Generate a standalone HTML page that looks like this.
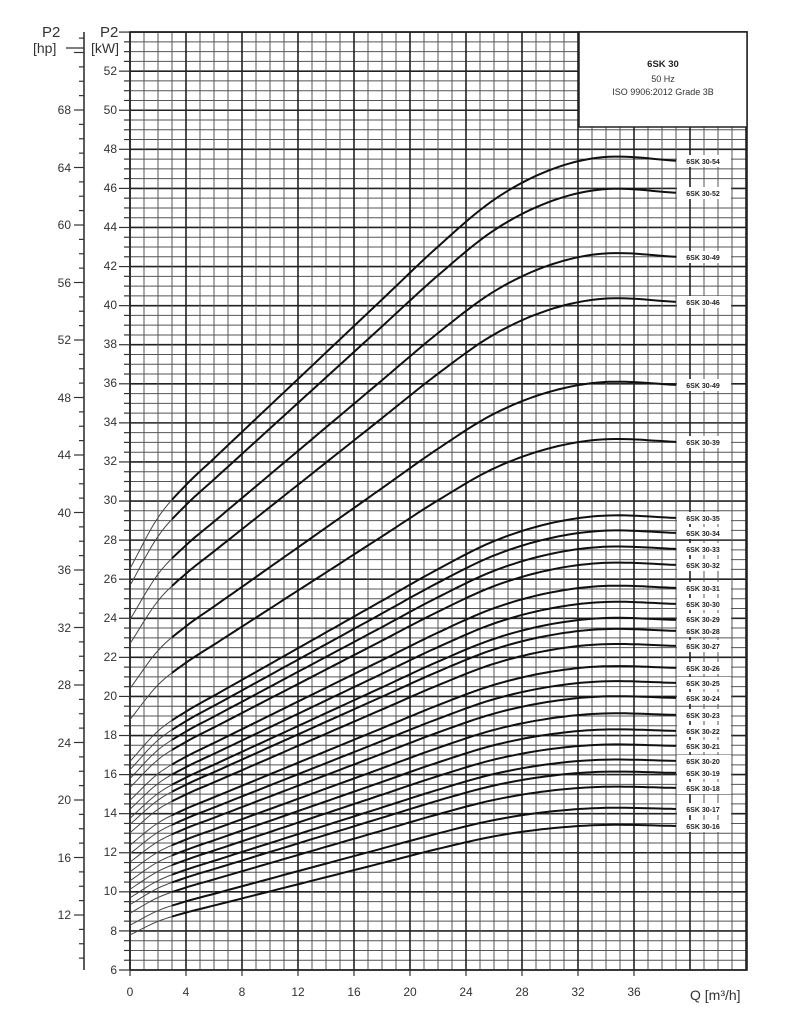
<!DOCTYPE html>
<html><head><meta charset="utf-8"><style>
html,body{margin:0;padding:0;background:#fff}
svg{display:block}
text{font-family:"Liberation Sans",sans-serif}
</style></head><body>
<svg id="s" width="788" height="1024" viewBox="0 0 788 1024" xmlns="http://www.w3.org/2000/svg">
<rect width="788" height="1024" fill="#fff"/>
<g id="grid"></g>
<g id="curves"></g>
<g id="axes"></g>
<rect x="579" y="32" width="168" height="95" fill="#fff" stroke="#222" stroke-width="1.5"/>
<text x="663" y="67" font-size="9.5" font-weight="bold" text-anchor="middle" fill="#222">6SK 30</text>
<text x="663" y="82" font-size="9" text-anchor="middle" fill="#333">50 Hz</text>
<text x="663" y="95" font-size="9" text-anchor="middle" fill="#333">ISO 9906:2012 Grade 3B</text>
<g id="lbl" font-size="7" font-weight="bold" fill="#222" text-anchor="middle">
<text x="703" y="164">6SK 30-54</text>
<text x="703" y="196">6SK 30-52</text>
<text x="703" y="260">6SK 30-49</text>
<text x="703" y="305">6SK 30-46</text>
<text x="703" y="388">6SK 30-49</text>
<text x="703" y="445">6SK 30-39</text>
<text x="703" y="521">6SK 30-35</text>
<text x="703" y="536">6SK 30-34</text>
<text x="703" y="552">6SK 30-33</text>
<text x="703" y="568">6SK 30-32</text>
<text x="703" y="591">6SK 30-31</text>
<text x="703" y="607">6SK 30-30</text>
<text x="703" y="622">6SK 30-29</text>
<text x="703" y="634">6SK 30-28</text>
<text x="703" y="649">6SK 30-27</text>
<text x="703" y="671">6SK 30-26</text>
<text x="703" y="686">6SK 30-25</text>
<text x="703" y="701">6SK 30-24</text>
<text x="703" y="718">6SK 30-23</text>
<text x="703" y="734">6SK 30-22</text>
<text x="703" y="749">6SK 30-21</text>
<text x="703" y="764">6SK 30-20</text>
<text x="703" y="776">6SK 30-19</text>
<text x="703" y="791">6SK 30-18</text>
<text x="703" y="812">6SK 30-17</text>
<text x="703" y="829">6SK 30-16</text>
</g>
<g font-size="12" fill="#333" text-anchor="end">
<text x="117" y="75">52</text><text x="117" y="114">50</text><text x="117" y="153">48</text><text x="117" y="192">46</text>
<text x="117" y="231">44</text><text x="117" y="270">42</text><text x="117" y="309">40</text><text x="117" y="348">38</text>
<text x="117" y="387">36</text><text x="117" y="426">34</text><text x="117" y="465">32</text><text x="117" y="504">30</text>
<text x="117" y="544">28</text><text x="117" y="583">26</text><text x="117" y="622">24</text><text x="117" y="661">22</text>
<text x="117" y="700">20</text><text x="117" y="739">18</text><text x="117" y="778">16</text><text x="117" y="817">14</text>
<text x="117" y="856">12</text><text x="117" y="895">10</text><text x="117" y="935">8</text><text x="117" y="974">6</text>
</g>
<g font-size="12" fill="#333" text-anchor="end">
<text x="71" y="114">68</text><text x="71" y="172">64</text><text x="71" y="229">60</text><text x="71" y="287">56</text>
<text x="71" y="344">52</text><text x="71" y="402">48</text><text x="71" y="459">44</text><text x="71" y="517">40</text>
<text x="71" y="574">36</text><text x="71" y="632">32</text><text x="71" y="689">28</text><text x="71" y="747">24</text>
<text x="71" y="804">20</text><text x="71" y="862">16</text><text x="71" y="919">12</text>
</g>
<g font-size="12" fill="#333" text-anchor="middle">
<text x="130" y="996">0</text><text x="186" y="996">4</text><text x="242" y="996">8</text><text x="298" y="996">12</text>
<text x="354" y="996">16</text><text x="410" y="996">20</text><text x="466" y="996">24</text><text x="522" y="996">28</text>
<text x="578" y="996">32</text><text x="634" y="996">36</text>
</g>
<text x="690" y="1000" font-size="14" fill="#333">Q [m³/h]</text>
<text x="100" y="37" font-size="15" fill="#333">P2</text>
<text x="91" y="53" font-size="14" fill="#333">[kW]</text>
<text x="42" y="37" font-size="15" fill="#333">P2</text>
<text x="33" y="53" font-size="14" fill="#333">[hp]</text>
</svg>
<script>
(function(){
var NS="http://www.w3.org/2000/svg";
function el(p,t,a){var e=document.createElementNS(NS,t);for(var k in a)e.setAttribute(k,a[k]);p.appendChild(e);return e;}
var X0=130,XS=14,Y6=970,YS=19.54;
function X(q){return X0+q*XS;} function Y(p){return Y6-(p-6)*YS;}
var g=document.getElementById('grid');
var L=130,R=747,T=32,B=970;
for(var i=0;i<=96;i++){var p=6+i*0.5,y=Y(p);var maj=(i%4==0);
 el(g,'line',{x1:L,x2:R,y1:y,y2:y,stroke:maj?'#222':'#555','stroke-width':maj?1.6:1});}
for(var q=0;q<=44;q++){var x=X(q);var maj=(q%4==0);
 el(g,'line',{x1:x,x2:x,y1:T,y2:B,stroke:maj?'#222':'#555','stroke-width':maj?1.6:1});}
el(g,'rect',{x:L,y:T,width:R-L,height:B-T,fill:'none',stroke:'#222','stroke-width':1.6});
var a=document.getElementById('axes');
for(var i=0;i<=96;i++){var y=Y(6+i*0.5);var maj=(i%4==0);el(a,'line',{x1:maj?119:124,x2:130,y1:y,y2:y,stroke:'#333','stroke-width':1.2});}
for(var q=0;q<=36;q+=4){el(a,'line',{x1:X(q),x2:X(q),y1:970,y2:976,stroke:'#333','stroke-width':1.2});}
el(a,'line',{x1:84,x2:84,y1:32,y2:970,stroke:'#333','stroke-width':1.6});
el(a,'line',{x1:66,x2:84,y1:48,y2:48,stroke:'#333','stroke-width':1.2});
for(var h=9;h<=73;h++){var y=110+(68-h)*14.375;var maj=(h%4==0);el(a,'line',{x1:maj?74:79,x2:84,y1:y,y2:y,stroke:'#333','stroke-width':1.2});}
var sp=[[0,0],[2,0.125],[4,0.205],[6,0.27],[8,0.335],[10,0.4],[14,0.53],[18,0.66],[22,0.79],[26,0.905],[30,0.978],[34,1.01],[39.2,1.0]];
function s(q){for(var i=0;i<sp.length-1;i++){if(q<=sp[i+1][0]){var p0=sp[Math.max(0,i-1)],p1=sp[i],p2=sp[i+1],p3=sp[Math.min(sp.length-1,i+2)];var t=(q-p1[0])/(p2[0]-p1[0]);
 var m1=(p2[1]-p0[1])/(p2[0]-p0[0])*(p2[0]-p1[0]),m2=(p3[1]-p1[1])/(p3[0]-p1[0])*(p2[0]-p1[0]);
 var t2=t*t,t3=t2*t;return (2*t3-3*t2+1)*p1[1]+(t3-2*t2+t)*m1+(-2*t3+3*t2)*p2[1]+(t3-t2)*m2;}}return 1;}
var ends=[161,193,257,302,385,442,518,533,549,565,588,604,620,631,646,668,683,698,715,731,746,761,773,788,809,826];
var c=document.getElementById('curves');
var lg=document.getElementById('lbl');
ends.forEach(function(ye){var pe=6+(970-ye)/YS;var r=0.583-(pe-13.38)/(47.49-13.38)*0.023;var p0=pe*r;
 function P(q){return p0+(pe-p0)*s(q);}
 var d1='',d2='';for(var q=0;q<=3.001;q+=0.25){d1+=(q==0?'M':'L')+X(q).toFixed(1)+','+Y(P(q)).toFixed(1);}
 for(var q=3;q<=39.2001;q+=0.4){d2+=(q==3?'M':'L')+X(q).toFixed(1)+','+Y(P(q)).toFixed(1);}
 el(c,'path',{d:d1,fill:'none',stroke:'#444','stroke-width':1});
 el(c,'path',{d:d2,fill:'none',stroke:'#111','stroke-width':2});
});
var texts=lg.querySelectorAll('text');
for(var i=0;i<texts.length;i++){var y=+texts[i].getAttribute('y');var r=document.createElementNS(NS,'rect');
 r.setAttribute('x',677);r.setAttribute('y',y-9);r.setAttribute('width',54);r.setAttribute('height',12);r.setAttribute('fill','#fff');
 lg.parentNode.insertBefore(r,lg);}
})();
</script>
</body></html>
